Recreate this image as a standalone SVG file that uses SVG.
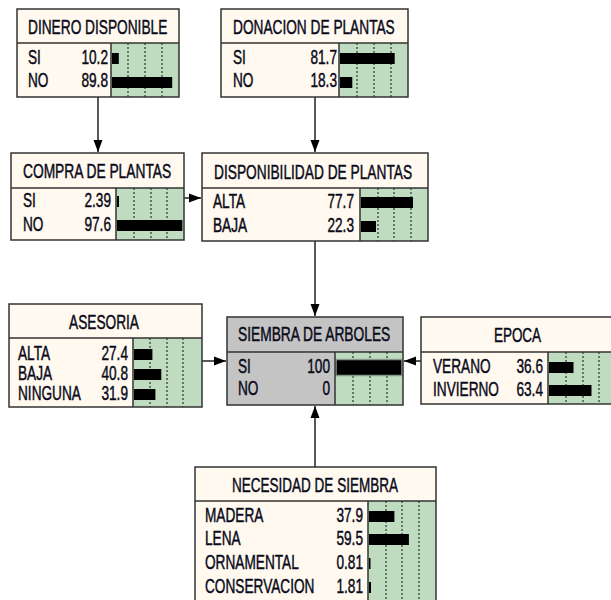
<svg xmlns="http://www.w3.org/2000/svg" width="611" height="600" viewBox="0 0 611 600">
<style>
.hd{fill:#fff9ef}
.lb{fill:#fff9ef}
.gy{fill:#c4c4c4}
.br{fill:#c0dcc0}
.ol{fill:none;stroke:#333;stroke-width:1.5}
.ln{stroke:#333;stroke-width:1.5;fill:none}
.grid{stroke:#111;stroke-width:1;stroke-dasharray:2,2;fill:none}
.bar{fill:#000}
text{font-family:"Liberation Sans",Arial,sans-serif;fill:#0a0a1a;stroke:#0a0a1a;stroke-width:0.45}
.t{font-size:20px}
.r{font-size:19.5px}
.e{text-anchor:end}
.c{text-anchor:middle}
.con{stroke:#222;stroke-width:1.5;fill:none}
</style>
<defs>
<marker id="ah" markerUnits="userSpaceOnUse" markerWidth="13" markerHeight="10" refX="12" refY="5" orient="auto">
<path d="M0,0.5 L12,5 L0,9.5 z" fill="#000"/>
</marker>
</defs>

<g id="connectors">
<path class="con" d="M98,97 V152" marker-end="url(#ah)"/>
<path class="con" d="M315,97 V152" marker-end="url(#ah)"/>
<path class="con" d="M184,198 H201" marker-end="url(#ah)"/>
<path class="con" d="M315,241 V316" marker-end="url(#ah)"/>
<path class="con" d="M202,361 H226" marker-end="url(#ah)"/>
<path class="con" d="M421,361 H404" marker-end="url(#ah)"/>
<path class="con" d="M315,467 V406" marker-end="url(#ah)"/>
</g>

<g id="dinero">
<rect class="hd" x="17" y="9" width="162" height="34"/>
<rect class="lb" x="17" y="43" width="94" height="54"/>
<rect class="br" x="111" y="43" width="68" height="54"/>
<path class="grid" d="M128,43V97M145,43V97M162,43V97"/>
<rect class="bar" x="112" y="53" width="6.8" height="11"/>
<rect class="bar" x="112" y="77" width="60.2" height="11"/>
<path class="ln" d="M17,43H179M111,43V97"/>
<rect class="ol" x="17" y="9" width="162" height="88"/>
<text class="t" transform="translate(28,34) scale(0.686,1)">DINERO DISPONIBLE</text>
<text class="r" transform="translate(28,64) scale(0.7,1)">SI</text>
<text class="r e" transform="translate(108,64) scale(0.7,1)">10.2</text>
<text class="r" transform="translate(28,87) scale(0.7,1)">NO</text>
<text class="r e" transform="translate(108,87) scale(0.7,1)">89.8</text>
</g>

<g id="donacion">
<rect class="hd" x="221" y="9" width="187" height="34"/>
<rect class="lb" x="221" y="43" width="118" height="54"/>
<rect class="br" x="339" y="43" width="69" height="54"/>
<path class="grid" d="M357,43V97M374,43V97M391,43V97"/>
<rect class="bar" x="340" y="53" width="54.7" height="11"/>
<rect class="bar" x="340" y="77" width="12.3" height="11"/>
<path class="ln" d="M221,43H408M339,43V97"/>
<rect class="ol" x="221" y="9" width="187" height="88"/>
<text class="t" transform="translate(233,34) scale(0.685,1)">DONACION DE PLANTAS</text>
<text class="r" transform="translate(233,64) scale(0.7,1)">SI</text>
<text class="r e" transform="translate(337,64) scale(0.7,1)">81.7</text>
<text class="r" transform="translate(233,87) scale(0.7,1)">NO</text>
<text class="r e" transform="translate(337,87) scale(0.7,1)">18.3</text>
</g>

<g id="compra">
<rect class="hd" x="11" y="153" width="173" height="35"/>
<rect class="lb" x="11" y="188" width="105" height="52"/>
<rect class="br" x="116" y="188" width="68" height="52"/>
<path class="grid" d="M134,188V240M151,188V240M167,188V240"/>
<rect class="bar" x="117" y="196" width="2" height="11"/>
<rect class="bar" x="117" y="220" width="65.4" height="11"/>
<path class="ln" d="M11,188H184M116,188V240"/>
<rect class="ol" x="11" y="153" width="173" height="87"/>
<text class="t" transform="translate(23,178) scale(0.689,1)">COMPRA DE PLANTAS</text>
<text class="r" transform="translate(23,207) scale(0.7,1)">SI</text>
<text class="r e" transform="translate(111,207) scale(0.7,1)">2.39</text>
<text class="r" transform="translate(23,231) scale(0.7,1)">NO</text>
<text class="r e" transform="translate(111,231) scale(0.7,1)">97.6</text>
</g>

<g id="disponibilidad">
<rect class="hd" x="202" y="153" width="226" height="35"/>
<rect class="lb" x="202" y="188" width="158" height="53"/>
<rect class="br" x="360" y="188" width="68" height="53"/>
<path class="grid" d="M378,188V241M394,188V241M411,188V241"/>
<rect class="bar" x="361" y="197" width="52" height="11"/>
<rect class="bar" x="361" y="221" width="15" height="11"/>
<path class="ln" d="M202,188H428M360,188V241"/>
<rect class="ol" x="202" y="153" width="226" height="88"/>
<text class="t" transform="translate(214,179) scale(0.687,1)">DISPONIBILIDAD DE PLANTAS</text>
<text class="r" transform="translate(213,208) scale(0.7,1)">ALTA</text>
<text class="r e" transform="translate(354,208) scale(0.7,1)">77.7</text>
<text class="r" transform="translate(213,232) scale(0.7,1)">BAJA</text>
<text class="r e" transform="translate(354,232) scale(0.7,1)">22.3</text>
</g>

<g id="asesoria">
<rect class="hd" x="9" y="304" width="193" height="34"/>
<rect class="lb" x="9" y="338" width="124" height="69"/>
<rect class="br" x="133" y="338" width="69" height="69"/>
<path class="grid" d="M150,338V407M167,338V407M183,338V407"/>
<rect class="bar" x="134" y="349" width="18.4" height="11"/>
<rect class="bar" x="134" y="369" width="27.3" height="11"/>
<rect class="bar" x="134" y="389" width="21.4" height="11"/>
<path class="ln" d="M9,338H202M133,338V407"/>
<rect class="ol" x="9" y="304" width="193" height="103"/>
<text class="t c" transform="translate(104,329) scale(0.685,1)">ASESORIA</text>
<text class="r" transform="translate(18,360) scale(0.7,1)">ALTA</text>
<text class="r e" transform="translate(128,360) scale(0.7,1)">27.4</text>
<text class="r" transform="translate(18,380) scale(0.7,1)">BAJA</text>
<text class="r e" transform="translate(128,380) scale(0.7,1)">40.8</text>
<text class="r" transform="translate(18,400) scale(0.7,1)">NINGUNA</text>
<text class="r e" transform="translate(128,400) scale(0.7,1)">31.9</text>
</g>

<g id="siembra">
<rect class="gy" x="227" y="317" width="176" height="88"/>
<rect class="br" x="335" y="352" width="68" height="53"/>
<path class="grid" d="M353,352V405M370,352V405M387,352V405"/>
<rect x="336" y="359.5" width="66" height="16" fill="#000" stroke="#8a9a8a" stroke-width="1.5"/>
<path class="ln" d="M227,352H403M335,352V405"/>
<rect class="ol" x="227" y="317" width="176" height="88"/>
<text class="t" transform="translate(238,341) scale(0.689,1)">SIEMBRA DE ARBOLES</text>
<text class="r" transform="translate(238,373) scale(0.7,1)">SI</text>
<text class="r e" transform="translate(330,373) scale(0.7,1)">100</text>
<text class="r" transform="translate(238,395) scale(0.7,1)">NO</text>
<text class="r e" transform="translate(330,395) scale(0.7,1)">0</text>
</g>

<g id="epoca">
<rect class="hd" x="421" y="317" width="195" height="35"/>
<rect class="lb" x="421" y="352" width="127" height="52"/>
<rect class="br" x="548" y="352" width="68" height="52"/>
<path class="grid" d="M566,352V404M583,352V404M599,352V404"/>
<rect class="bar" x="549" y="362" width="24.5" height="11"/>
<rect class="bar" x="549" y="385" width="42.5" height="11"/>
<path class="ln" d="M421,352H616M548,352V404"/>
<rect class="ol" x="421" y="317" width="195" height="87"/>
<text class="t c" transform="translate(517.5,342) scale(0.675,1)">EPOCA</text>
<text class="r" transform="translate(433,373) scale(0.7,1)">VERANO</text>
<text class="r e" transform="translate(543,373) scale(0.7,1)">36.6</text>
<text class="r" transform="translate(433,396) scale(0.7,1)">INVIERNO</text>
<text class="r e" transform="translate(543,396) scale(0.7,1)">63.4</text>
</g>

<g id="necesidad">
<rect class="hd" x="195" y="467" width="241" height="34"/>
<rect class="lb" x="195" y="501" width="173" height="110"/>
<rect class="br" x="368" y="501" width="68" height="110"/>
<path class="grid" d="M386,501V611M402,501V611M419,501V611"/>
<rect class="bar" x="369" y="511" width="25.4" height="11"/>
<rect class="bar" x="369" y="534" width="39.9" height="11"/>
<rect class="bar" x="369" y="558" width="1.5" height="11"/>
<rect class="bar" x="369" y="582" width="2" height="11"/>
<path class="ln" d="M195,501H436M368,501V611"/>
<rect class="ol" x="195" y="467" width="241" height="144"/>
<text class="t" transform="translate(232,492) scale(0.676,1)">NECESIDAD DE SIEMBRA</text>
<text class="r" transform="translate(205,522) scale(0.7,1)">MADERA</text>
<text class="r e" transform="translate(363,522) scale(0.7,1)">37.9</text>
<text class="r" transform="translate(205,545) scale(0.7,1)">LENA</text>
<text class="r e" transform="translate(363,545) scale(0.7,1)">59.5</text>
<text class="r" transform="translate(205,569) scale(0.7,1)">ORNAMENTAL</text>
<text class="r e" transform="translate(363,569) scale(0.7,1)">0.81</text>
<text class="r" transform="translate(205,593) scale(0.7,1)">CONSERVACION</text>
<text class="r e" transform="translate(363,593) scale(0.7,1)">1.81</text>
</g>
</svg>
